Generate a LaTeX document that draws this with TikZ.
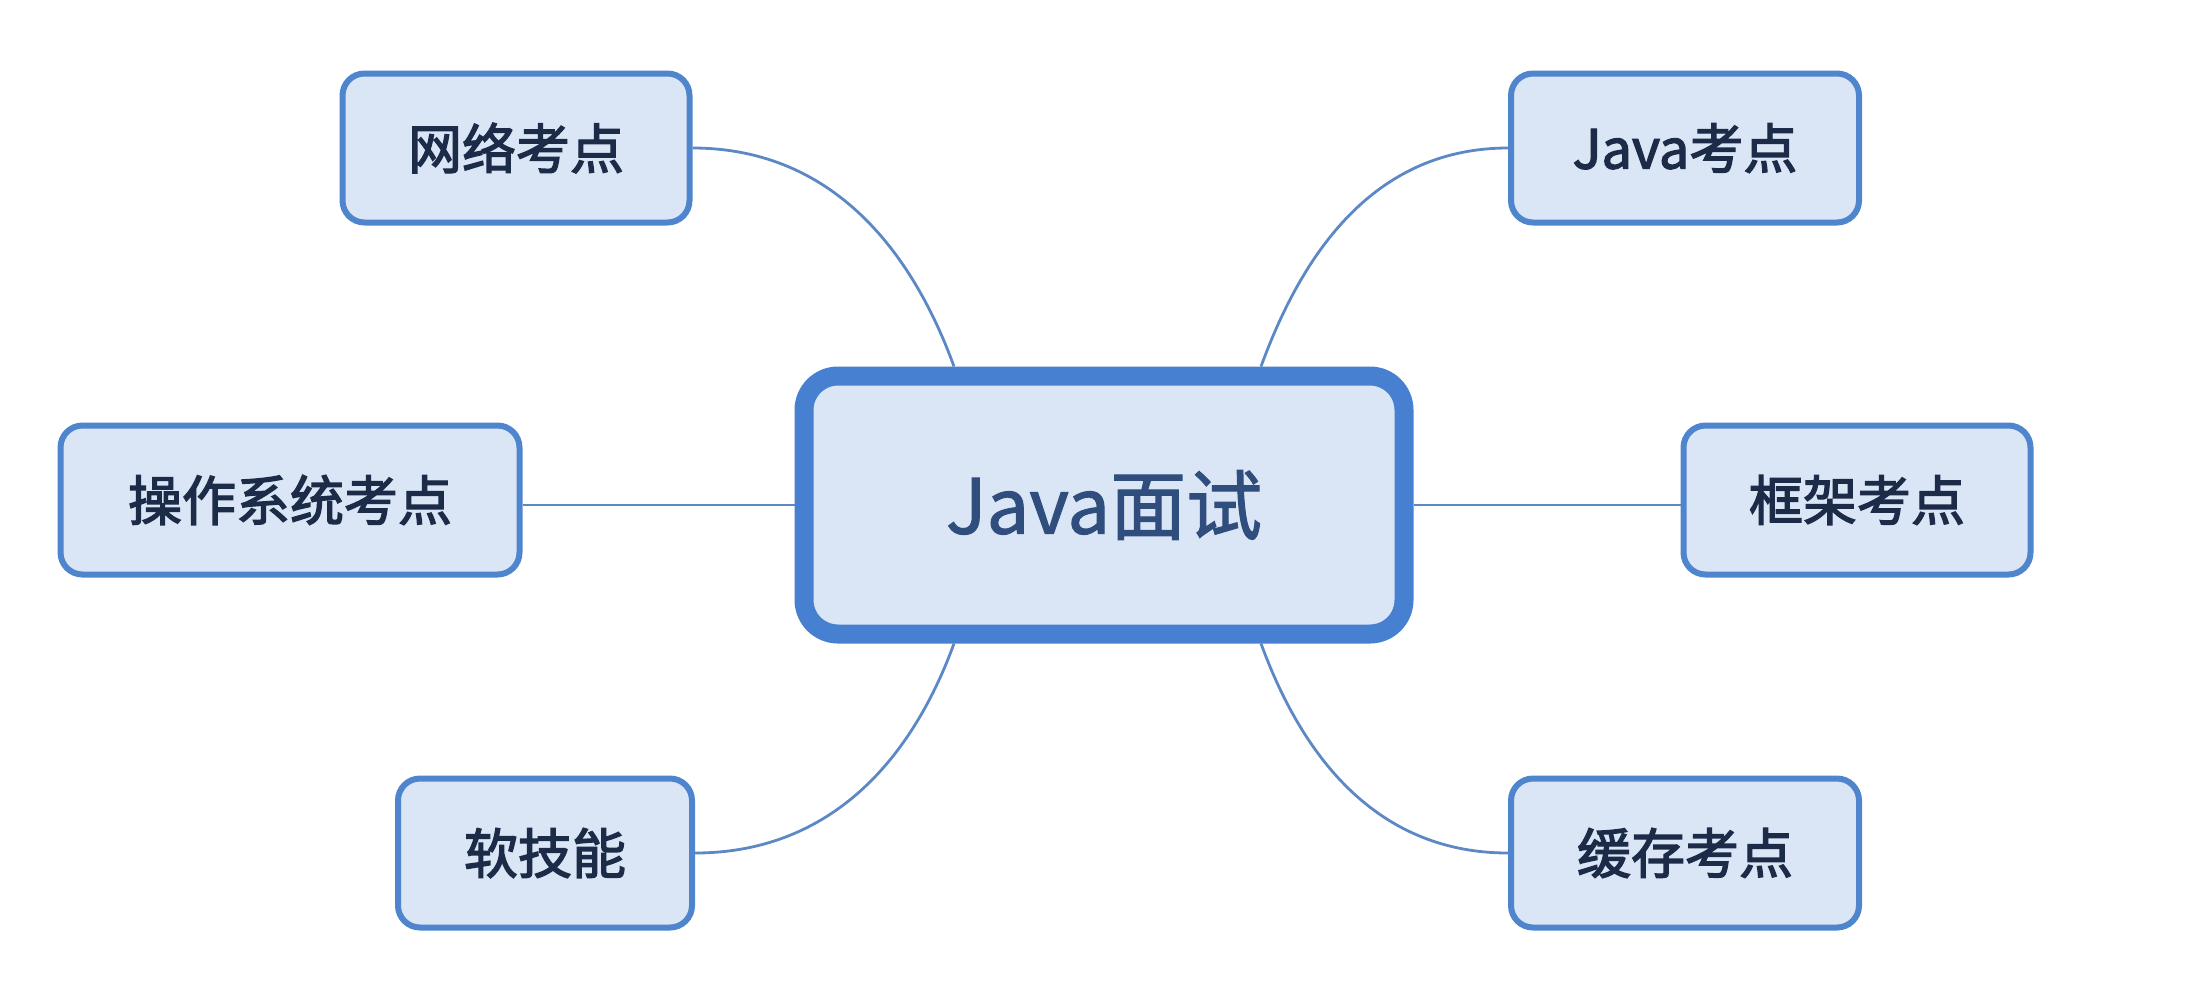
\documentclass[tikz,border=0pt]{standalone}
\usepackage{fontspec}
\setmainfont{Noto Sans CJK SC}
\newfontfamily\topicfont{Noto Sans CJK SC}[FakeBold=2.5]
\newfontfamily\mainfont{Noto Sans CJK SC}[FakeBold=1.4]
\definecolor{boxfill}{HTML}{DAE5F5}
\definecolor{boxline}{HTML}{4F85CD}
\definecolor{mainline}{HTML}{4780D0}
\definecolor{linkcol}{HTML}{5C88C6}
\definecolor{txtdark}{HTML}{1C2B47}
\definecolor{txtmain}{HTML}{2F4E7E}
\tikzset{
  topic/.style={draw=boxline, fill=boxfill, line width=6pt, rounded corners=22pt,
    minimum height=149pt, inner sep=0pt, text=txtdark,
    font=\topicfont\fontsize{54}{62}\selectfont},
  central/.style={draw=mainline, fill=boxfill, line width=19pt, rounded corners=34pt,
    minimum width=600pt, minimum height=258pt, inner sep=0pt, text=txtmain,
    font=\mainfont\fontsize{76}{90}\selectfont},
  link/.style={draw=linkcol, line width=2.8pt}
}
\begin{document}
\begin{tikzpicture}[x=1pt,y=-1pt]
\useasboundingbox (0,0) rectangle (2205,997);
\node[central] (c) at (1104,505) {Java面试};
\node[topic, minimum width=347pt] (wl) at (516,148) {网络考点};
\node[topic, minimum width=459pt] (os) at (290,500) {操作系统考点};
\node[topic, minimum width=294pt] (rj) at (545,853) {软技能};
\node[topic, minimum width=348pt] (jv) at (1685,148) {Java考点};
\node[topic, minimum width=347pt] (kj) at (1857,500) {框架考点};
\node[topic, minimum width=348pt] (hc) at (1685,853) {缓存考点};
\draw[link] (wl.east) to[out=0,in=110] ([xshift=-150pt]c.north);
\draw[link] (jv.west) to[out=180,in=70] ([xshift=157pt]c.north);
\draw[link] (rj.east) to[out=0,in=-110] ([xshift=-150pt]c.south);
\draw[link] (hc.west) to[out=180,in=-70] ([xshift=157pt]c.south);
\draw[link] (os.east |- c.west) -- (c.west);
\draw[link] (c.east) -- (kj.west |- c.east);
\end{tikzpicture}
\end{document}
